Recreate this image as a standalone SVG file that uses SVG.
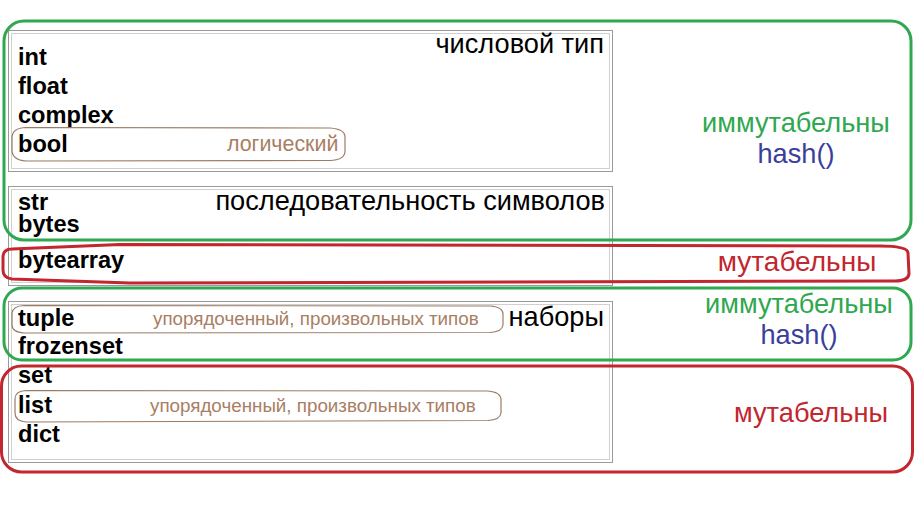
<svg xmlns="http://www.w3.org/2000/svg" width="922" height="508" viewBox="0 0 922 508">
<style>
.box-o{fill:none;stroke:#9a9a9a;stroke-width:1}
.box-i{fill:none;stroke:#d0d0d0;stroke-width:1}
.kw{font-family:"Liberation Sans",Arial,sans-serif;font-weight:bold;font-size:23.6px;fill:#000}
.hdr{font-family:"Liberation Sans",Arial,sans-serif;font-size:27.2px;fill:#000;text-anchor:end}
.note{font-family:"Liberation Sans",Arial,sans-serif;font-size:18.8px;fill:#a97e62}
.cap{fill:none;stroke:#9b7c63;stroke-width:1.2}
.grn{fill:none;stroke:#2fa84f;stroke-width:3}
.red{fill:none;stroke:#c2262e;stroke-width:3}
.lg{font-family:"Liberation Sans",Arial,sans-serif;font-size:27.2px;text-anchor:middle}
</style>
<rect width="922" height="508" fill="#fff"/>
<g id="numeric">
<rect class="box-o" x="8.5" y="30.5" width="604" height="141"/>
<rect class="box-i" x="11.5" y="33.5" width="598" height="135"/>
<text class="hdr" x="604" y="53">числовой тип</text>
<text class="kw" x="18" y="65">int</text>
<text class="kw" x="18" y="94">float</text>
<text class="kw" x="18" y="123">complex</text>
<path class="cap" d="M 26,127.5 L 330,128 Q 345,129 345,137 L 345,152 Q 344,160 330,160.5 L 26,161 Q 12,160 12,150 L 12,138 Q 12,128 26,127.5 Z"/>
<text class="kw" x="18" y="152">bool</text>
<text class="note" x="227" y="151" style="font-size:21.4px">логический</text>
</g>
<g id="sequence">
<rect class="box-o" x="8.5" y="186.5" width="604" height="99"/>
<rect class="box-i" x="11.5" y="189.5" width="598" height="93"/>
<text class="hdr" x="605" y="210">последовательность символов</text>
<text class="kw" x="18" y="210">str</text>
<text class="kw" x="18" y="232">bytes</text>
<text class="kw" x="18" y="268">bytearray</text>
</g>
<g id="collections">
<rect class="box-o" x="8.5" y="301.5" width="604" height="161"/>
<rect class="box-i" x="11.5" y="304.5" width="598" height="155"/>
<text class="hdr" x="604" y="326">наборы</text>
<path class="cap" d="M 24,305.5 L 490,306 Q 503,307 503,314 L 503,325 Q 502,332 490,332.5 L 24,333 Q 12,332 12,325 L 12,313 Q 13,306 24,305.5 Z"/>
<text class="kw" x="18" y="326">tuple</text>
<text class="note" x="153" y="325">упорядоченный, произвольных типов</text>
<text class="kw" x="18" y="354">frozenset</text>
<text class="kw" x="18" y="383">set</text>
<path class="cap" d="M 26,390.5 L 488,391 Q 501,392 501,400 L 501,413 Q 500,420 488,420.5 L 26,422 Q 15,421 15,413 L 15,399 Q 15,391 26,390.5 Z"/>
<text class="kw" x="18" y="413">list</text>
<text class="note" x="150" y="412">упорядоченный, произвольных типов</text>
<text class="kw" x="18" y="442">dict</text>
</g>
<g id="immutable-1">
<rect class="grn" x="4" y="21" width="907" height="219" rx="20"/>
<text class="lg" x="796" y="132" fill="#2fa84f">иммутабельны</text>
<text class="lg" x="796" y="163" fill="#3b3f9c">hash()</text>
</g>
<g id="mutable-1">
<path class="red" d="M 12,249 L 120,244.5 L 880,246 Q 908,246 908,253 L 909,274 Q 908,281 895,281 L 130,283 L 12,279 Q 3,278 3,270 L 3,257 Q 3,249 12,249 Z"/>
<text class="lg" x="797" y="271" fill="#c2262e" style="font-size:28px">мутабельны</text>
</g>
<g id="immutable-2">
<rect class="grn" x="4" y="288" width="907" height="72" rx="18"/>
<text class="lg" x="799" y="313" fill="#2fa84f">иммутабельны</text>
<text class="lg" x="799" y="344" fill="#3b3f9c">hash()</text>
</g>
<g id="mutable-2">
<rect class="red" x="1.5" y="366" width="911" height="106" rx="20"/>
<text class="lg" x="811" y="422" fill="#c2262e">мутабельны</text>
</g>
<g id="connectors"></g>
</svg>
